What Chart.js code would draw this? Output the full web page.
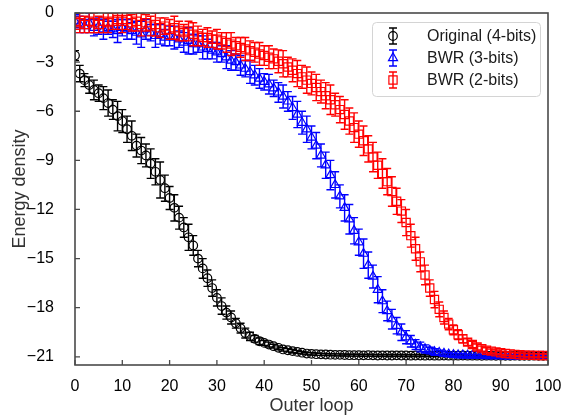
<!DOCTYPE html>
<html>
<head>
<meta charset="utf-8">
<script src="https://cdn.jsdelivr.net/npm/chart.js@4.4.0/dist/chart.umd.min.js"></script>
<style>
  html, body { margin: 0; padding: 0; background: #fff; }
  #wrap { width: 564px; height: 419px; }
</style>
</head>
<body>
<div id="wrap"><canvas id="chart" width="564" height="419"></canvas></div>
<script>
// Outer loop index (x)
const outerLoop = [
  0,1,2,3,4,5,6,7,8,9,10,11,12,13,14,15,16,17,18,19,
  20,21,22,23,24,25,26,27,28,29,30,31,32,33,34,35,36,37,38,39,
  40,41,42,43,44,45,46,47,48,49,50,51,52,53,54,55,56,57,58,59,
  60,61,62,63,64,65,66,67,68,69,70,71,72,73,74,75,76,77,78,79,
  80,81,82,83,84,85,86,87,88,89,90,91,92,93,94,95,96,97,98,99,100
];

// Original (4-bits)
const original4 = [
  -2.6,-3.7,-4.1,-4.4,-4.7,-4.9,-5.2,-5.5,-5.9,-6.3,
  -6.6,-7.1,-7.5,-8.1,-8.4,-8.7,-9.2,-9.7,-10.2,-10.7,
  -11.3,-11.9,-12.5,-13.1,-13.7,-14.2,-15.0,-15.6,-16.2,-16.8,
  -17.4,-17.9,-18.3,-18.6,-18.95,-19.25,-19.55,-19.75,-19.9,-20.05,
  -20.15,-20.25,-20.35,-20.45,-20.55,-20.6,-20.65,-20.7,-20.75,-20.8,
  -20.82,-20.84,-20.85,-20.86,-20.87,-20.88,-20.88,-20.89,-20.9,-20.9,
  -20.9,-20.91,-20.9,-20.91,-20.92,-20.91,-20.92,-20.92,-20.91,-20.92,
  -20.92,-20.93,-20.92,-20.92,-20.93,-20.92,-20.93,-20.93,-20.92,-20.93,
  -20.93,-20.93,-20.92,-20.93,-20.93,-20.93,-20.94,-20.93,-20.93,-20.94,
  -20.93,-20.94,-20.94,-20.93,-20.94,-20.94,-20.94,-20.93,-20.94,-20.94,
  -20.94
];
const original4Err = [
  0.3,0.5,0.4,0.5,0.6,0.5,0.7,0.8,0.6,0.9,
  0.7,0.8,0.9,0.7,0.8,0.7,0.9,0.8,1.1,0.8,
  0.7,0.8,0.7,0.6,0.8,0.6,0.5,0.6,0.5,0.5,
  0.5,0.5,0.4,0.4,0.3,0.3,0.3,0.25,0.2,0.2,
  0.15,0.15,0.12,0.12,0.1,0.1,0.1,0.08,0.08,0.08,
  0.07,0.07,0.06,0.06,0.06,0.06,0.06,0.06,0.06,0.06,
  0.06,0.06,0.06,0.06,0.06,0.06,0.06,0.06,0.06,0.06,
  0.06,0.06,0.06,0.06,0.06,0.06,0.06,0.06,0.06,0.06,
  0.06,0.06,0.06,0.06,0.06,0.06,0.06,0.06,0.06,0.06,
  0.06,0.06,0.06,0.06,0.06,0.06,0.06,0.06,0.06,0.06,
  0.06
];

// BWR (3-bits)
const bwr3 = [
  -0.5,-0.7,-0.8,-0.6,-0.9,-0.8,-1.0,-0.9,-1.0,-1.1,
  -0.9,-1.0,-1.1,-1.2,-1.3,-1.0,-1.2,-1.4,-1.3,-1.5,
  -1.4,-1.5,-1.6,-1.8,-1.7,-1.9,-1.9,-2.1,-2.2,-2.3,
  -2.4,-2.5,-2.7,-2.9,-3.0,-3.2,-3.4,-3.6,-3.8,-4.0,
  -4.2,-4.35,-4.6,-4.85,-5.1,-5.4,-5.8,-6.2,-6.7,-7.1,
  -7.6,-8.1,-8.7,-9.3,-9.9,-10.5,-11.2,-11.9,-12.6,-13.3,
  -14.0,-14.7,-15.4,-16.1,-16.9,-17.6,-18.2,-18.7,-19.1,-19.5,
  -19.8,-20.05,-20.25,-20.4,-20.52,-20.62,-20.7,-20.75,-20.8,-20.85,
  -20.88,-20.9,-20.9,-20.92,-20.93,-20.93,-20.94,-20.95,-20.95,-20.96,
  -20.96,-20.97,-20.97,-20.97,-20.98,-20.98,-20.98,-20.99,-20.99,-20.99,
  -21.0
];
const bwr3Err = [
  0.4,0.5,0.4,0.6,0.5,0.5,0.6,0.4,0.5,0.7,
  0.5,0.6,0.5,0.7,0.8,0.6,0.5,0.7,0.6,0.5,
  0.6,0.7,0.5,0.6,0.8,0.6,0.5,0.7,0.6,0.5,
  0.6,0.5,0.7,0.6,0.5,0.6,0.5,0.7,0.6,0.6,
  0.5,0.6,0.5,0.6,0.7,0.6,0.7,0.8,0.7,0.8,
  0.7,0.8,0.7,0.8,0.9,0.8,0.7,0.8,0.9,0.8,
  0.8,0.9,0.8,0.7,0.8,0.7,0.6,0.6,0.5,0.5,
  0.4,0.35,0.3,0.3,0.25,0.2,0.2,0.15,0.15,0.12,
  0.1,0.1,0.1,0.08,0.08,0.08,0.08,0.07,0.07,0.07,
  0.07,0.07,0.07,0.07,0.07,0.07,0.07,0.07,0.07,0.07,
  0.07
];

// BWR (2-bits)
const bwr2 = [
  -0.5,-0.6,-0.7,-0.5,-0.6,-0.7,-0.5,-0.6,-0.5,-0.4,
  -0.5,-0.4,-0.6,-0.5,-0.7,-0.6,-0.8,-0.7,-0.9,-0.8,
  -1.0,-0.9,-1.1,-1.2,-1.1,-1.3,-1.4,-1.5,-1.5,-1.6,
  -1.6,-1.7,-1.8,-1.9,-2.0,-2.1,-2.2,-2.3,-2.4,-2.5,
  -2.6,-2.7,-2.8,-2.95,-3.1,-3.3,-3.5,-3.7,-3.9,-4.1,
  -4.3,-4.55,-4.8,-5.05,-5.3,-5.6,-5.9,-6.2,-6.6,-7.0,
  -7.4,-7.8,-8.3,-8.8,-9.3,-9.8,-10.3,-10.9,-11.5,-12.1,
  -12.8,-13.6,-14.4,-15.2,-16.0,-16.8,-17.5,-18.1,-18.6,-19.0,
  -19.35,-19.65,-19.9,-20.1,-20.25,-20.4,-20.5,-20.6,-20.65,-20.7,
  -20.75,-20.8,-20.82,-20.85,-20.87,-20.9,-20.9,-20.91,-20.92,-20.92,
  -20.93
];
const bwr2Err = [
  0.5,0.6,0.5,0.7,0.6,0.5,0.7,0.6,0.5,0.6,
  0.7,0.6,0.5,0.6,0.7,0.5,0.6,0.7,0.6,0.5,
  0.6,0.7,0.6,0.5,0.6,0.7,0.6,0.5,0.6,0.5,
  0.6,0.5,0.6,0.7,0.5,0.6,0.7,0.6,0.6,0.7,
  0.6,0.7,0.6,0.7,0.8,0.6,0.7,0.8,0.7,0.8,
  0.7,0.8,0.7,0.8,0.9,0.7,0.8,0.9,0.8,0.9,
  0.8,0.9,0.8,0.9,0.8,0.9,0.8,0.9,0.8,0.7,
  0.8,0.7,0.7,0.6,0.6,0.5,0.5,0.45,0.4,0.35,
  0.3,0.3,0.25,0.2,0.2,0.18,0.15,0.15,0.12,0.12,
  0.1,0.1,0.1,0.1,0.1,0.1,0.1,0.1,0.1,0.1,
  0.1
];

const seriesLabels = ["Original (4-bits)", "BWR (3-bits)", "BWR (2-bits)"];
const xTicks = [0,10,20,30,40,50,60,70,80,90,100];
const yTicks = [0,-3,-6,-9,-12,-15,-18,-21];
const yTickLabels = ["0","\u22123","\u22126","\u22129","\u221212","\u221215","\u221218","\u221221"];

const FONT = "'Liberation Sans', Arial, sans-serif";
const AXIS_COLOR = "#4a4a4a";

function toPoints(vals) {
  return outerLoop.map((x, i) => ({ x: x, y: vals[i] }));
}

// error bars, drawn under the markers of each dataset
const errorBars = {
  id: "errorBars",
  beforeDatasetDraw(chart, args) {
    const ds = chart.data.datasets[args.index];
    if (!ds.errors) return;
    const ctx = chart.ctx;
    const xs = chart.scales.x, ys = chart.scales.y;
    Chart.helpers.clipArea(ctx, chart.chartArea);
    ctx.save();
    ctx.strokeStyle = ds.borderColor;
    ctx.lineWidth = 1.4;
    ds.data.forEach((p, i) => {
      const e = ds.errors[i];
      const px = xs.getPixelForValue(p.x);
      const y1 = ys.getPixelForValue(p.y + e);
      const y2 = ys.getPixelForValue(p.y - e);
      ctx.beginPath();
      ctx.moveTo(px, y1); ctx.lineTo(px, y2);
      ctx.moveTo(px - 4, y1); ctx.lineTo(px + 4, y1);
      ctx.moveTo(px - 4, y2); ctx.lineTo(px + 4, y2);
      ctx.stroke();
    });
    ctx.restore();
    Chart.helpers.unclipArea(ctx);
  }
};

// box around the plot with inward ticks
const frame = {
  id: "frame",
  afterDatasetsDraw(chart) {
    const ctx = chart.ctx;
    const a = chart.chartArea;
    const xs = chart.scales.x, ys = chart.scales.y;
    ctx.save();
    ctx.strokeStyle = AXIS_COLOR;
    ctx.lineWidth = 1.6;
    ctx.strokeRect(a.left, a.top, a.right - a.left, a.bottom - a.top);
    ctx.lineWidth = 1.3;
    ctx.beginPath();
    xTicks.forEach(v => {
      const px = xs.getPixelForValue(v);
      ctx.moveTo(px, a.bottom); ctx.lineTo(px, a.bottom - 5);
    });
    yTicks.forEach(v => {
      const py = ys.getPixelForValue(v);
      ctx.moveTo(a.left, py); ctx.lineTo(a.left + 5, py);
    });
    ctx.stroke();
    ctx.restore();
  }
};

// legend box in the top right corner
const boxLegend = {
  id: "boxLegend",
  afterDraw(chart) {
    const ctx = chart.ctx;
    const bx = 372.5, by = 22.5, bw = 168, bh = 74;
    ctx.save();
    ctx.beginPath();
    ctx.roundRect(bx, by, bw, bh, 4);
    ctx.fillStyle = "rgba(255,255,255,0.9)";
    ctx.fill();
    ctx.strokeStyle = "#d4d4d4";
    ctx.lineWidth = 1;
    ctx.stroke();
    chart.data.datasets.forEach((ds, i) => {
      const mx = 393, my = 36 + i * 22;
      ctx.strokeStyle = ds.borderColor;
      ctx.lineWidth = 1.4;
      ctx.beginPath();
      ctx.moveTo(mx, my - 8); ctx.lineTo(mx, my + 8);
      ctx.moveTo(mx - 4, my - 8); ctx.lineTo(mx + 4, my - 8);
      ctx.moveTo(mx - 4, my + 8); ctx.lineTo(mx + 4, my + 8);
      ctx.stroke();
      ctx.lineWidth = ds.borderWidth;
      ctx.fillStyle = "rgba(0,0,0,0)";
      Chart.helpers.drawPoint(ctx, { pointStyle: ds.pointStyle, radius: ds.pointRadius, rotation: 0, borderWidth: ds.borderWidth }, mx, my);
      ctx.fillStyle = "#1a1a1a";
      ctx.font = "16px " + FONT;
      ctx.textBaseline = "middle";
      ctx.textAlign = "left";
      ctx.fillText(ds.label, 427, my + 1);
    });
    ctx.restore();
  }
};

new Chart(document.getElementById("chart"), {
  type: "scatter",
  data: {
    datasets: [
      {
        label: seriesLabels[0], data: toPoints(original4), errors: original4Err,
        borderColor: "#000000", backgroundColor: "rgba(0,0,0,0)",
        pointStyle: "circle", pointRadius: 4.3, borderWidth: 1.2, order: 3, clip: 0
      },
      {
        label: seriesLabels[1], data: toPoints(bwr3), errors: bwr3Err,
        borderColor: "#0000ff", backgroundColor: "rgba(0,0,0,0)",
        pointStyle: "triangle", pointRadius: 5.2, borderWidth: 1.2, order: 2, clip: 0
      },
      {
        label: seriesLabels[2], data: toPoints(bwr2), errors: bwr2Err,
        borderColor: "#ff0000", backgroundColor: "rgba(0,0,0,0)",
        pointStyle: "rect", pointRadius: 5.8, borderWidth: 1.2, order: 1, clip: 0
      }
    ]
  },
  options: {
    responsive: false,
    animation: false,
    devicePixelRatio: 1,
    events: [],
    layout: { padding: { top: 13, right: 16, left: 0, bottom: 0 } },
    plugins: { legend: { display: false }, tooltip: { enabled: false } },
    scales: {
      x: {
        type: "linear", min: 0, max: 100,
        grid: { display: false }, border: { display: false },
        afterBuildTicks: s => { s.ticks = xTicks.map(v => ({ value: v })); },
        afterFit: s => { s.height = 54; s.paddingLeft = 0; s.paddingRight = 0; },
        ticks: { color: "#000", padding: 4, maxRotation: 0, font: { family: FONT, size: 16 } },
        title: { display: true, text: "Outer loop", color: "#333", padding: { top: 2, bottom: 2 }, font: { family: FONT, size: 18 } }
      },
      y: {
        type: "linear", min: -21.5, max: 0,
        grid: { display: false }, border: { display: false },
        afterBuildTicks: s => { s.ticks = yTicks.map(v => ({ value: v })); },
        afterFit: s => { s.width = 75; s.paddingTop = 0; s.paddingBottom = 0; },
        ticks: {
          color: "#000", padding: 13, font: { family: FONT, size: 16 },
          callback: v => yTickLabels[yTicks.indexOf(v)]
        },
        title: { display: true, text: "Energy density", color: "#333", padding: { top: 9, bottom: 9 }, font: { family: FONT, size: 18 } }
      }
    }
  },
  plugins: [errorBars, frame, boxLegend]
});
</script>
</body>
</html>
